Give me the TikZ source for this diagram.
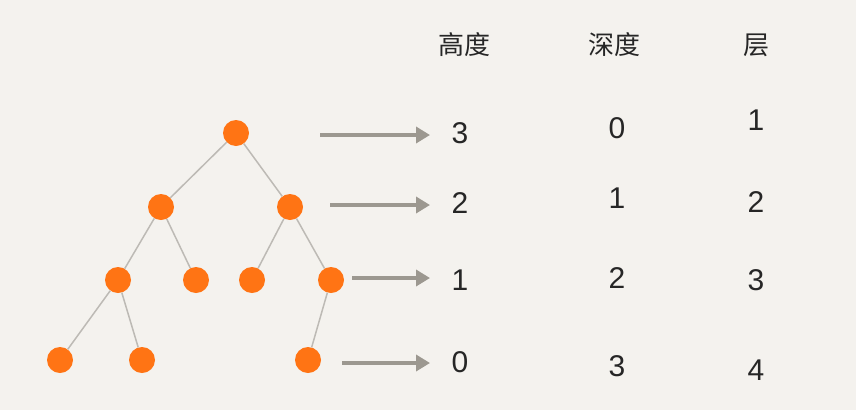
\documentclass[tikz,border=0pt]{standalone}
\usepackage{fontspec}
\newfontfamily\cjk{Noto Sans CJK SC}
\setmainfont{Liberation Sans}
\usetikzlibrary{arrows.meta}
\definecolor{bg}{HTML}{F4F2EE}
\definecolor{dot}{HTML}{FF7414}
\definecolor{edge}{HTML}{BDBAB5}
\definecolor{arr}{HTML}{9C9890}
\begin{document}
\begin{tikzpicture}[x=1pt,y=-1pt,
  dotn/.style={circle,fill=dot,minimum size=26pt,inner sep=0pt},
  tedge/.style={edge,line width=1.5pt},
  garrow/.style={arr,line width=4.5pt,-{Triangle[length=14pt,width=16pt]}},
  hdr/.style={font=\cjk\fontsize{26}{30}\selectfont,text=black!85},
  num/.style={font=\fontsize{30}{34}\selectfont,text=black!85}]
\fill[bg] (0,0) rectangle (856,410);
\useasboundingbox (0,0) rectangle (856,410);
\node[dotn] (r) at (236,133) {};
\node[dotn] (a) at (161,207) {};
\node[dotn] (b) at (290,207) {};
\node[dotn] (c) at (118,280) {};
\node[dotn] (d) at (196,280) {};
\node[dotn] (e) at (252,280) {};
\node[dotn] (f) at (331,280) {};
\node[dotn] (g) at (60,360) {};
\node[dotn] (h) at (142,360) {};
\node[dotn] (i) at (308,360) {};
\foreach \u/\v in {r/a,r/b,a/c,a/d,b/e,b/f,c/g,c/h,f/i}
  \draw[tedge] (\u) -- (\v);
\coordinate (s1) at (320,135); \coordinate (t1) at (430,135);
\coordinate (s2) at (330,205); \coordinate (t2) at (430,205);
\coordinate (s3) at (352,278); \coordinate (t3) at (430,278);
\coordinate (s4) at (342,363); \coordinate (t4) at (430,363);
\foreach \k in {1,2,3,4} \draw[garrow] (s\k) -- (t\k);
\node[hdr] (h1) at (464,45) {高度};
\node[hdr] (h2) at (614,45) {深度};
\node[hdr] (h3) at (756,45) {层};
\node[num] at (460,133) {3};
\node[num] at (460,203) {2};
\node[num] at (460,280) {1};
\node[num] at (460,362) {0};
\node[num] at (617,128) {0};
\node[num] at (617,198) {1};
\node[num] at (617,278) {2};
\node[num] at (617,366) {3};
\node[num] at (756,120) {1};
\node[num] at (756,202) {2};
\node[num] at (756,280) {3};
\node[num] at (756,370) {4};
\end{tikzpicture}
\end{document}
